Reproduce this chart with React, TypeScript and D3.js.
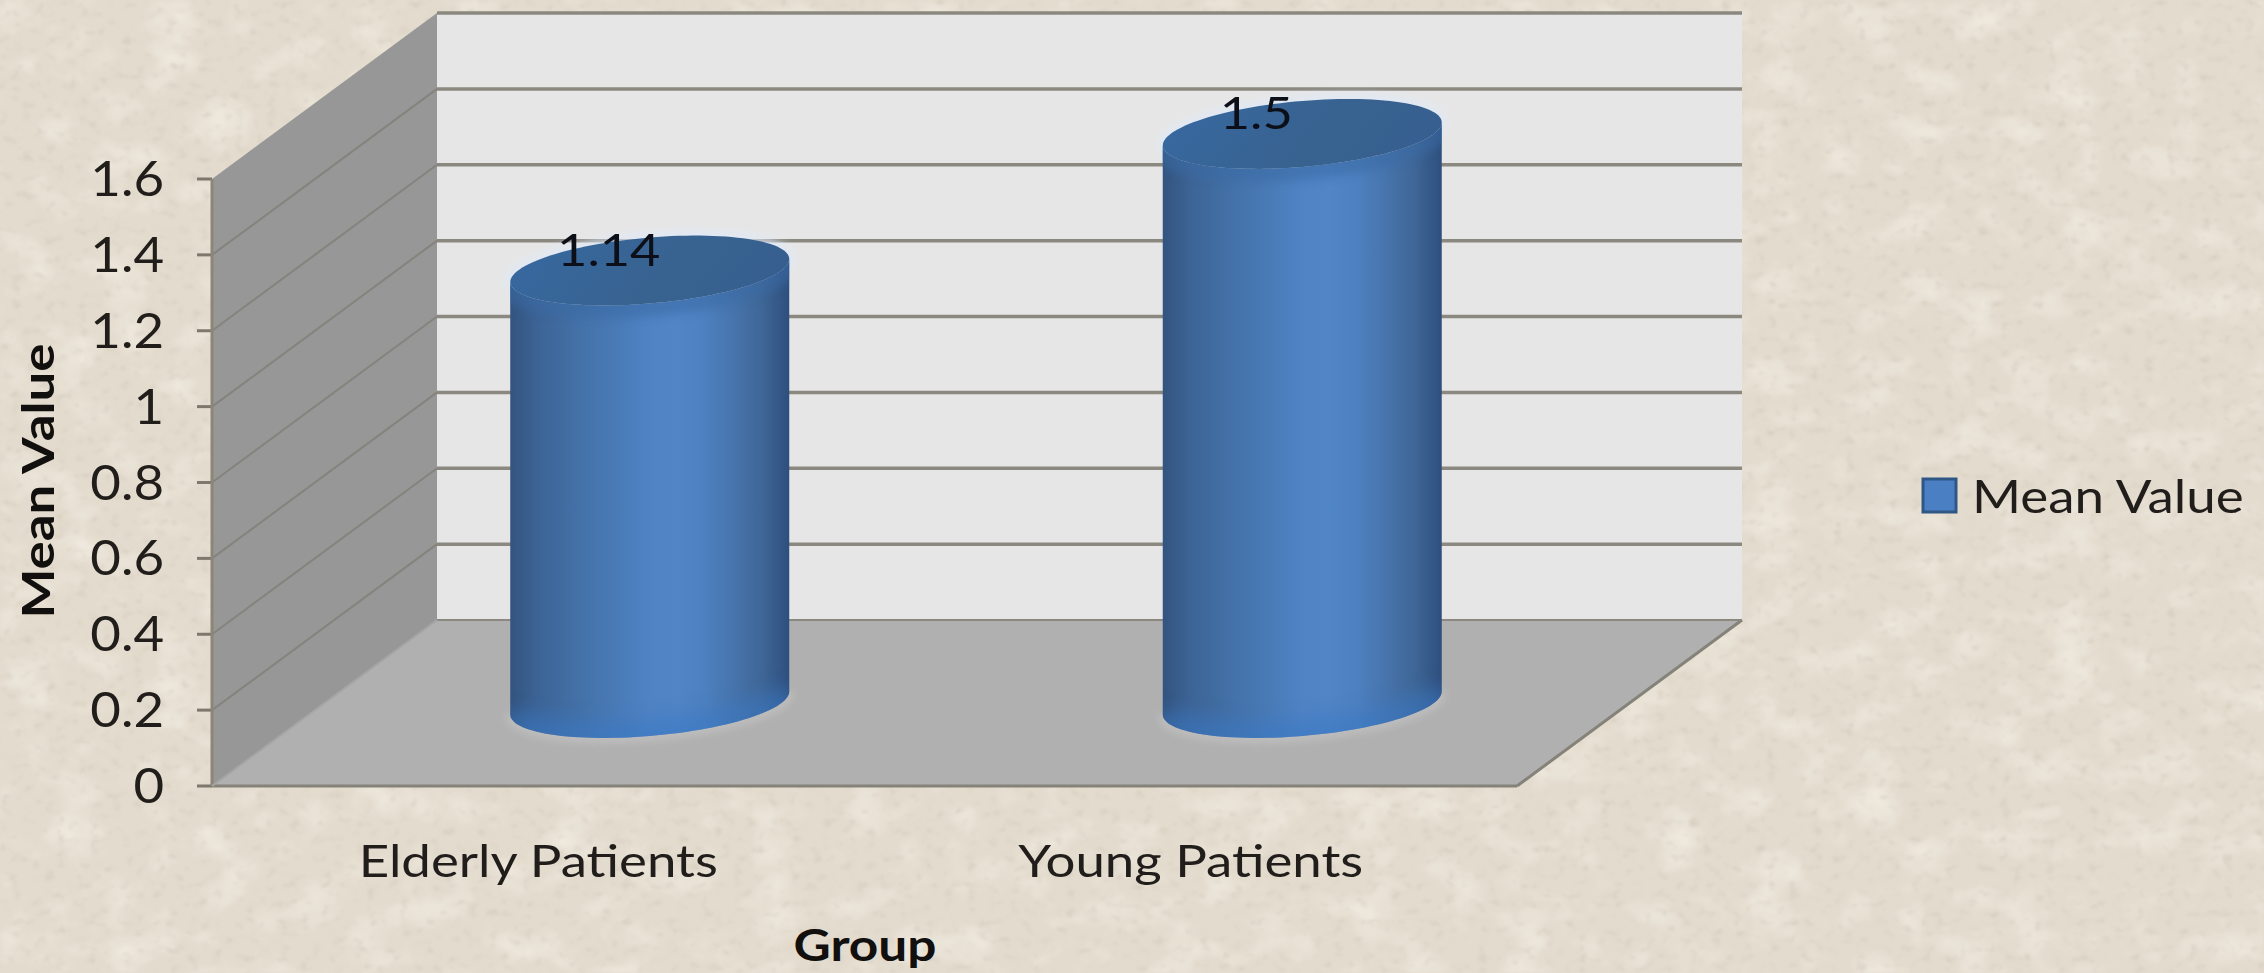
import React from "react";
import * as d3 from "d3";

const categories = ["Elderly Patients", "Young Patients"];
const meanValues = [1.14, 1.5];
const valueLabels = ["1.14", "1.5"];
const yTicks = [0, 0.2, 0.4, 0.6, 0.8, 1, 1.2, 1.4, 1.6];
const seriesName = "Mean Value";
const xTitle = "Group";
const yTitle = "Mean Value";

const W = 2264;
const H = 973;
const FONT = "Lato, 'Open Sans', sans-serif";
const INK = "#201d1b";

// Oblique projection: the front plane and how far the depth axis shifts it.
const frontLeft = 212;
const frontRight = 1517;
const depthX = 225;
const depthY = -166;

const yFront = d3.scaleLinear().domain([0, 1.6]).range([786, 179]);
const xBand = d3.scaleBand<string>().domain(categories).range([frontLeft, frontRight]);

const shade = d3
  .scaleLinear<string>()
  .domain([0, 0.1, 0.28, 0.55, 0.72, 0.9, 1])
  .range(["#33547f", "#3d6496", "#4574ac", "#5187ca", "#4d7fbd", "#3f6797", "#2e4f7e"]);
const stops = d3.range(0, 1.0001, 0.1);

const cylRx = 139.5;
const cylRy = 33;
const cylTilt = 11.5;
const theta = d3.range(0, Math.PI * 2 + 0.001, Math.PI / 60);

// Point on a tilted ellipse centred on (cx, cy)
const rim = (cx: number, cy: number, t: number): [number, number] => [
  cx + cylRx * Math.cos(t),
  cy - cylTilt * Math.cos(t) + cylRy * Math.sin(t),
];
const line = d3.line();

// Text widened along its own baseline
function WideText({
  x,
  y,
  sx,
  rotate = 0,
  children,
  ...rest
}: {
  x: number;
  y: number;
  sx: number;
  rotate?: number;
  children: React.ReactNode;
  [key: string]: unknown;
}) {
  return (
    <text transform={`translate(${x},${y}) rotate(${rotate}) scale(${sx},1)`} fontFamily={FONT} {...rest}>
      {children}
    </text>
  );
}

function Cylinder({ name, value, label, index }: { name: string; value: number; label: string; index: number }) {
  const cx = (xBand(name) as number) + xBand.bandwidth() / 2 + depthX / 2 - 1;
  const base = yFront(0) + depthY / 2;
  const top = yFront(value) + depthY / 2;
  const lower = theta.filter((t) => t <= Math.PI);
  const bottomArc = lower.map((t) => rim(cx, base, t));
  const topArc = lower.map((t) => rim(cx, top, t));
  const body = line([...bottomArc, ...topArc.slice().reverse()]) + "Z";
  const cap = line(theta.map((t) => rim(cx, top, t))) + "Z";
  const clipId = `cylClip${index}`;
  return (
    <g>
      <clipPath id={clipId}>
        <path d={body} />
      </clipPath>
      {/* Soft contact shadow on the floor */}
      <path d={line(bottomArc) as string} fill="none" stroke="#c4c4c4" strokeWidth={9} filter="url(#soft)" opacity={0.8} />
      <path d={cap} fill="none" stroke="#dfeafa" strokeWidth={7} filter="url(#soft)" />
      <path d={body} fill="url(#cylBody)" />
      <g clipPath={`url(#${clipId})`}>
        <path d={line(bottomArc) as string} fill="none" stroke="#3b78c4" strokeWidth={34} filter="url(#softer)" opacity={0.55} />
        <path d={line(topArc) as string} fill="none" stroke="#3a6aa4" strokeWidth={26} filter="url(#soft)" opacity={0.55} />
      </g>
      <path d={cap} fill="url(#cylCap)" />
      <WideText
        x={cx - (index === 0 ? 41 : 46)}
        y={top - 5}
        sx={1.19}
        fontSize={44}
        fill="#0c0f18"
        textAnchor="middle"
      >
        {label}
      </WideText>
    </g>
  );
}

export default function App() {
  const floorFront = yFront(0);
  const backLeft = frontLeft + depthX;
  const backRight = frontRight + depthX;
  const backBottom = floorFront + depthY;
  const backTop = yFront(1.6) + depthY;
  return (
    <svg
      width={W}
      height={H}
      viewBox={`0 0 ${W} ${H}`}
      style={{ position: "fixed", left: 0, top: 0, display: "block" }}
    >
      <defs>
        <linearGradient id="cylBody" x1="0" x2="1" y1="0" y2="0">
          {stops.map((s) => (
            <stop key={s} offset={s} stopColor={shade(s)} />
          ))}
        </linearGradient>
        <linearGradient id="cylCap" x1="0" x2="1" y1="0.4" y2="0.6">
          <stop offset="0" stopColor="#37689f" />
          <stop offset="0.6" stopColor="#38628f" />
          <stop offset="1" stopColor="#365f90" />
        </linearGradient>
        <filter id="soft" x="-10%" y="-50%" width="120%" height="200%">
          <feGaussianBlur stdDeviation="4" />
        </filter>
        <filter id="softer" x="-10%" y="-50%" width="120%" height="200%">
          <feGaussianBlur stdDeviation="9" />
        </filter>
        {/* Fine dark flecks of the paper */}
        <filter id="parchment" x="0" y="0" width="100%" height="100%">
          <feTurbulence type="fractalNoise" baseFrequency="0.09 0.11" numOctaves={3} seed={11} />
          <feColorMatrix
            values="0 0 0 0 0.62
                    0 0 0 0 0.56
                    0 0 0 0 0.47
                    3 0 0 0 -1.72"
          />
          <feGaussianBlur stdDeviation="0.8" />
        </filter>
        {/* Broad pale clouding of the paper */}
        <filter id="parchmentLight" x="0" y="0" width="100%" height="100%">
          <feTurbulence type="fractalNoise" baseFrequency="0.02 0.028" numOctaves={4} seed={4} />
          <feColorMatrix
            values="0 0 0 0 0.94
                    0 0 0 0 0.91
                    0 0 0 0 0.85
                    1.3 0 0 0 -0.62"
          />
          <feGaussianBlur stdDeviation="1.5" />
        </filter>
      </defs>

      {/* Paper background */}
      <rect width={W} height={H} fill="#e3dbcd" />
      <rect width={W} height={H} filter="url(#parchmentLight)" />
      <rect width={W} height={H} filter="url(#parchment)" opacity={0.55} />

      {/* Chart walls and floor */}
      <polygon
        points={`${backLeft},${backTop} ${backRight},${backTop} ${backRight},${backBottom} ${backLeft},${backBottom}`}
        fill="#e6e6e6"
      />
      <polygon
        points={`${frontLeft},${yFront(1.6)} ${backLeft},${backTop} ${backLeft},${backBottom} ${frontLeft},${floorFront}`}
        fill="#979797"
      />
      <polygon
        points={`${frontLeft},${floorFront} ${backLeft},${backBottom} ${backRight},${backBottom} ${frontRight},${floorFront}`}
        fill="#b0b0b0"
      />

      {/* Gridlines across the side and back walls, with ticks on the axis */}
      {yTicks.map((t) => {
        const y = yFront(t);
        const isFloor = t === 0;
        return (
          <g key={t}>
            {!isFloor && t !== 1.6 && (
              <line x1={frontLeft} y1={y} x2={backLeft} y2={y + depthY} stroke="#85837d" strokeWidth={2} />
            )}
            {!isFloor && (
              <line x1={backLeft} y1={y + depthY} x2={backRight} y2={y + depthY} stroke="#8b8880" strokeWidth={3.5} />
            )}
            <line x1={197} y1={y} x2={frontLeft} y2={y} stroke="#7d776c" strokeWidth={3} />
            <WideText x={164} y={y + 17} sx={1.1} textAnchor="end" fontSize={48} fill={INK}>
              {t}
            </WideText>
          </g>
        );
      })}

      {/* Wall edges */}
      <line x1={frontLeft} y1={yFront(1.6)} x2={frontLeft} y2={floorFront} stroke="#8b8677" strokeWidth={3} />
      <line x1={frontLeft} y1={floorFront} x2={frontRight} y2={floorFront} stroke="#85827a" strokeWidth={3} />
      <line x1={frontRight} y1={floorFront} x2={backRight} y2={backBottom} stroke="#85827a" strokeWidth={3} />
      <line x1={backLeft} y1={backBottom} x2={backRight} y2={backBottom} stroke="#8b8880" strokeWidth={2} />
      <line x1={frontLeft} y1={floorFront} x2={backLeft} y2={backBottom} stroke="#a5a5a5" strokeWidth={2} />

      {categories.map((c, i) => (
        <Cylinder key={c} name={c} value={meanValues[i]} label={valueLabels[i]} index={i} />
      ))}

      {/* Category labels */}
      {categories.map((c) => (
        <WideText
          key={c}
          x={(xBand(c) as number) + xBand.bandwidth() / 2}
          y={877}
          sx={1.2}
          textAnchor="middle"
          fontSize={44}
          fill={INK}
        >
          {c}
        </WideText>
      ))}

      {/* Axis titles */}
      <WideText x={865} y={961} sx={1.167} textAnchor="middle" fontWeight={700} fontSize={44} fill="#11100f">
        {xTitle}
      </WideText>
      <WideText
        x={54}
        y={481}
        sx={1.2}
        rotate={-90}
        textAnchor="middle"
        fontWeight={700}
        fontSize={44}
        fill="#11100f"
      >
        {yTitle}
      </WideText>

      {/* Legend */}
      <rect x={1923} y={479} width={33} height={33} fill="#4a7fc4" stroke="#2f5684" strokeWidth={3} />
      <WideText x={1972} y={513} sx={1.15} fontSize={46} fill={INK}>
        {seriesName}
      </WideText>
    </svg>
  );
}
